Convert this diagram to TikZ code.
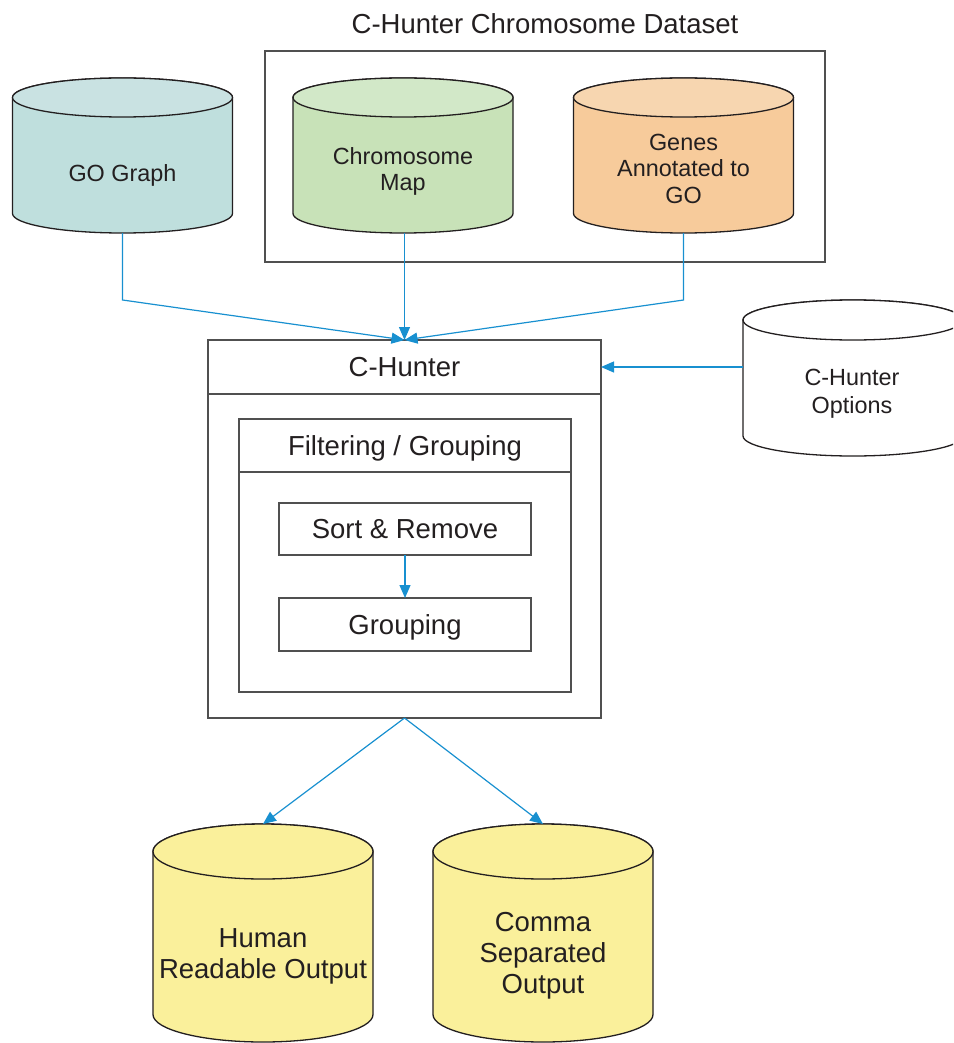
\documentclass[tikz,border=0pt]{standalone}
\usepackage{fontspec}
\setmainfont{Liberation Sans}
\usetikzlibrary{arrows.meta}

\definecolor{inkdark}{RGB}{35,31,32}
\definecolor{boxline}{RGB}{80,80,80}
\definecolor{flowblue}{RGB}{24,144,208}
\definecolor{gobody}{RGB}{191,223,221}
\definecolor{gotop}{RGB}{201,226,226}
\definecolor{chrbody}{RGB}{200,226,184}
\definecolor{chrtop}{RGB}{210,232,200}
\definecolor{genbody}{RGB}{247,203,155}
\definecolor{gentop}{RGB}{247,214,176}
\definecolor{outbody}{RGB}{250,240,155}

\tikzset{
  cylline/.style={draw=inkdark, line width=1.3pt},
  frame/.style={draw=boxline, line width=1.1pt, inner sep=0pt, outer sep=0pt},
  conn/.style={draw=flowblue, line width=1.2pt, -{Triangle[length=13pt,width=11pt]}},
  cyltext/.style={font=\fontsize{23.4}{26.5}\selectfont, text=inkdark, align=center,
                  inner sep=0pt, text depth=0pt},
  bigtext/.style={font=\fontsize{27.5}{31}\selectfont, text=inkdark, align=center,
                  inner sep=0pt, text depth=0pt},
}

% database cylinder: name, centre x, top y, bottom y, x radius, y radius, body colour, lid colour
% (y values are measured downwards from the top edge)
\newcommand{\dbcylinder}[8]{%
  \path[cylline, fill=#7] ({#2-#5},{-#3-#6}) -- ({#2-#5},{-#4+#6})
     arc[start angle=180, end angle=360, x radius=#5, y radius=#6]
     -- ({#2+#5},{-#3-#6})
     arc[start angle=0, end angle=180, x radius=#5, y radius=#6] -- cycle;
  \path[cylline, fill=#8] (#2,{-#3-#6}) ellipse[x radius=#5, y radius=#6];
  \node[inner sep=0pt, outer sep=0pt, minimum width={(2*#5)*1pt},
        minimum height={(#4-#3)*1pt}] (#1) at (#2,{-(#3+#4)/2}) {};%
}

\begin{document}
\begin{tikzpicture}[x=1pt, y=1pt]
\useasboundingbox (0,0) rectangle (953,-1043);
\clip (0,0) rectangle (953,-1043);

% dataset group
\node[frame, minimum width=560pt, minimum height=211pt] (dataset) at (545,-156.5) {};
\node[bigtext] (dataset-title) at (545,-24) {C-Hunter Chromosome Dataset};

% input stores
\dbcylinder{go}{122.5}{78}{233}{110}{19.5}{gobody}{gotop}
\node[cyltext] (go-label) at (122.5,-173) {GO Graph};

\dbcylinder{chrmap}{403}{78}{233}{110}{19.5}{chrbody}{chrtop}
\node[cyltext] (chrmap-label) at (403,-169) {Chromosome\\Map};

\dbcylinder{genes}{683.5}{78}{233}{110}{19.5}{genbody}{gentop}
\node[cyltext] (genes-label) at (683.5,-168.5) {Genes\\Annotated to\\GO};

\dbcylinder{options}{853}{300}{456}{110}{20}{white}{white}
\node[cyltext, font=\fontsize{23.4}{28}\selectfont] (options-label) at (852,-391) {C-Hunter\\Options};

% C-Hunter program
\node[frame, minimum width=393pt, minimum height=378pt] (chunter) at (404.5,-529) {};
\node[frame, minimum width=393pt, minimum height=54pt] (chunter-head) at (404.5,-367) {};
\node[bigtext] (chunter-title) at (404.5,-367) {C-Hunter};

\node[frame, minimum width=332pt, minimum height=273pt] (filter) at (405,-555.5) {};
\node[frame, minimum width=332pt, minimum height=53pt] (filter-head) at (405,-445.5) {};
\node[bigtext] (filter-title) at (405,-445.5) {Filtering / Grouping};

\node[frame, minimum width=252pt, minimum height=52pt] (sort) at (405,-529) {};
\node[bigtext] (sort-label) at (405,-529) {Sort \& Remove};
\node[frame, minimum width=252pt, minimum height=53pt] (grouping) at (405,-624.5) {};
\node[bigtext] (grouping-label) at (405,-624.5) {Grouping};

% output stores
\dbcylinder{human}{263}{824}{1042}{110}{27.5}{outbody}{outbody}
\node[bigtext] (human-label) at (263,-954) {Human\\Readable Output};

\dbcylinder{comma}{543}{824}{1042}{110}{27.5}{outbody}{outbody}
\node[bigtext] (comma-label) at (543,-953) {Comma\\Separated\\Output};

% data flow
\coordinate (go-bend) at (122.5,-300);
\coordinate (genes-bend) at (683.5,-300);
\draw[conn] (go.south) -- (go-bend) -- (chunter.north);
\draw[conn] (genes.south) -- (genes-bend) -- (chunter.north);
\draw[conn] (chrmap.south -| chunter.north) -- (chunter.north);
\draw[conn] (options.west |- chunter-head.east) -- (chunter-head.east);
\draw[conn] (sort.south) -- (grouping.north);
\draw[conn] (chunter.south) -- (human.north);
\draw[conn] (chunter.south) -- (comma.north);
\end{tikzpicture}
\end{document}
